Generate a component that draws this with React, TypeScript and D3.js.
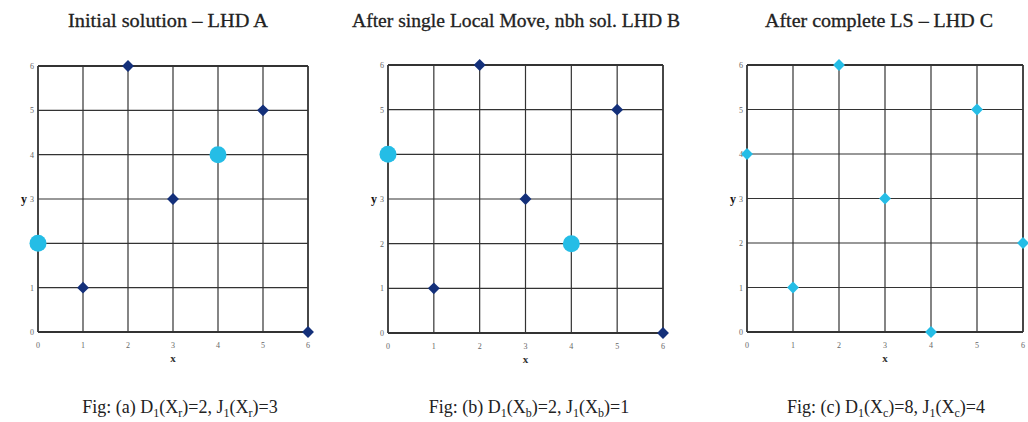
import React from "react";
import * as d3 from "d3";

const ticks = [0, 1, 2, 3, 4, 5, 6];
const xsA = [0, 1, 2, 3, 4, 5, 6];
const ysA = [2, 1, 6, 3, 4, 5, 0];
const bigA = [0, 4];
const xsB = [0, 1, 2, 3, 4, 5, 6];
const ysB = [4, 1, 6, 3, 2, 5, 0];
const bigB = [0, 4];
const xsC = [0, 1, 2, 3, 4, 5, 6];
const ysC = [4, 1, 6, 3, 0, 5, 2];

const titles = [
  "Initial solution – LHD A",
  "After single Local Move, nbh sol. LHD B",
  "After complete LS – LHD C",
];
const captionLetters = ["a", "b", "c"];
const captionSubs = ["r", "b", "c"];
const captionD = [2, 2, 8];
const captionJ = [3, 1, 4];

const NAVY = "#14307a";
const CYAN = "#25bde6";

type PanelProps = {
  x0: number; x1: number; y0: number; y1: number;
  xs: number[]; ys: number[]; big: number[]; allCyan: boolean;
  title: string; titleX: number; titleW: number;
  capX: number; idx: number;
};

function Panel(p: PanelProps) {
  const xs = d3.scaleLinear().domain([0, 6]).range([p.x0, p.x1]);
  const ys = d3.scaleLinear().domain([0, 6]).range([p.y0, p.y1]);
  const diamond = d3.symbol().type(d3.symbolDiamond2);
  return (
    <g>
      <text x={p.titleX} y={27} textAnchor="middle" fontFamily="Liberation Serif" fontSize={19}
        fill="#222" stroke="#222" strokeWidth={0.3} textLength={p.titleW} lengthAdjust="spacingAndGlyphs">{p.title}</text>
      {ticks.map((t) => (
        <line key={"v" + t} x1={xs(t)} x2={xs(t)} y1={ys(0)} y2={ys(6)} stroke="#333" strokeWidth={t === 0 || t === 6 ? 1.8 : 1.2} />
      ))}
      {ticks.map((t) => (
        <line key={"h" + t} x1={xs(0)} x2={xs(6)} y1={ys(t)} y2={ys(t)} stroke="#333" strokeWidth={t === 0 || t === 6 ? 1.8 : 1.2} />
      ))}
      {ticks.map((t) => (
        <text key={"xt" + t} x={xs(t)} y={ys(0) + 16} textAnchor="middle" fontFamily="Liberation Serif" fontSize={8} fill="#666">{t}</text>
      ))}
      {ticks.map((t) => (
        <text key={"yt" + t} x={xs(0) - 4} y={ys(t) + 3} textAnchor="end" fontFamily="Liberation Serif" fontSize={8} fill="#666">{t}</text>
      ))}
      <text x={(p.x0 + p.x1) / 2} y={ys(0) + 30} textAnchor="middle" fontFamily="Liberation Serif" fontSize={11} fontWeight="bold" fill="#333">x</text>
      <text x={p.x0 - 11} y={ys(3) + 4} textAnchor="end" fontFamily="Liberation Serif" fontSize={12} fontWeight="bold" fill="#111">y</text>
      {p.xs.map((xv, i) => {
        const isBig = p.big.includes(xv);
        if (isBig) {
          return <circle key={"p" + i} cx={xs(xv)} cy={ys(p.ys[i])} r={8.5} fill={CYAN} />;
        }
        return (
          <path key={"p" + i} d={diamond.size(90)() as string}
            transform={`translate(${xs(xv)},${ys(p.ys[i])})`}
            fill={p.allCyan ? CYAN : NAVY} />
        );
      })}
      <text x={p.capX} y={413} textAnchor="middle" fontFamily="Liberation Serif" fontSize={18} fill="#222">
        {`Fig: (${captionLetters[p.idx]}) D`}
        <tspan fontSize={12} dy={4}>1</tspan>
        <tspan dy={-4}>(X</tspan>
        <tspan fontSize={12} dy={4}>{captionSubs[p.idx]}</tspan>
        <tspan dy={-4}>{`)=${captionD[p.idx]}, J`}</tspan>
        <tspan fontSize={12} dy={4}>1</tspan>
        <tspan dy={-4}>(X</tspan>
        <tspan fontSize={12} dy={4}>{captionSubs[p.idx]}</tspan>
        <tspan dy={-4}>{`)=${captionJ[p.idx]}`}</tspan>
      </text>
    </g>
  );
}

export default function App() {
  return (
    <svg width={1028} height={422} style={{ position: "absolute", left: 0, top: 0, background: "#fff" }}>
      <rect width={1028} height={422} fill="#fff" />
      <Panel x0={38} x1={308} y0={332} y1={66} xs={xsA} ys={ysA} big={bigA} allCyan={false}
        title={titles[0]} titleX={168} titleW={200} capX={180} idx={0} />
      <Panel x0={388} x1={663} y0={333} y1={65} xs={xsB} ys={ysB} big={bigB} allCyan={false}
        title={titles[1]} titleX={516} titleW={328} capX={529} idx={1} />
      <Panel x0={747} x1={1023} y0={332} y1={65} xs={xsC} ys={ysC} big={[]} allCyan={true}
        title={titles[2]} titleX={879} titleW={228} capX={886} idx={2} />
    </svg>
  );
}
